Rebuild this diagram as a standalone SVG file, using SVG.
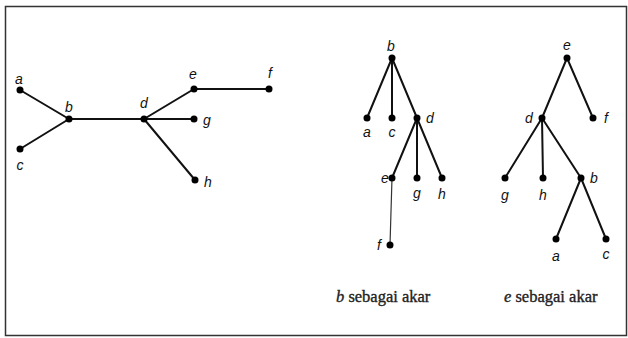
<svg xmlns="http://www.w3.org/2000/svg" width="628" height="338" viewBox="0 0 628 338">
<style>
.edge{stroke:#111;stroke-width:2;fill:none;stroke-linecap:round}
.thin{stroke:#333;stroke-width:1.2}
.dot{fill:#000}
.lbl{font-family:"Liberation Sans",Arial,sans-serif;font-style:italic;font-size:14px;fill:#111;text-anchor:middle}
.cap{font-family:"Liberation Serif","Times New Roman",serif;font-size:16.5px;fill:#222;stroke:#222;stroke-width:0.35}
</style>
<rect x="5.5" y="6.5" width="621" height="329" fill="#fff" stroke="#333" stroke-width="1.5"/>
<g id="connectors">
<line class="edge" x1="20" y1="90" x2="69" y2="119"/>
<line class="edge" x1="20" y1="149" x2="69" y2="119"/>
<line class="edge" x1="69" y1="119" x2="144" y2="119"/>
<line class="edge" x1="144" y1="119" x2="194" y2="89"/>
<line class="edge" x1="194" y1="89" x2="269" y2="89"/>
<line class="edge" x1="144" y1="119" x2="194" y2="119"/>
<line class="edge" x1="144" y1="119" x2="195" y2="180"/>
<line class="edge" x1="392" y1="58" x2="367" y2="118"/>
<line class="edge" x1="392" y1="58" x2="392" y2="118"/>
<line class="edge" x1="392" y1="58" x2="417" y2="118"/>
<line class="edge" x1="417" y1="118" x2="392" y2="178"/>
<line class="edge" x1="417" y1="118" x2="417" y2="178"/>
<line class="edge" x1="417" y1="118" x2="442" y2="178"/>
<line class="edge thin" x1="392" y1="178" x2="390" y2="245"/>
<line class="edge" x1="567" y1="58" x2="542" y2="118"/>
<line class="edge" x1="567" y1="58" x2="593" y2="118"/>
<line class="edge" x1="542" y1="118" x2="505" y2="178"/>
<line class="edge" x1="542" y1="118" x2="543" y2="178"/>
<line class="edge" x1="542" y1="118" x2="581" y2="178"/>
<line class="edge" x1="581" y1="178" x2="556" y2="239"/>
<line class="edge" x1="581" y1="178" x2="606" y2="239"/>
</g>
<g id="g1-a"><circle class="dot" cx="20" cy="90" r="3.5"/><text class="lbl" x="19" y="84">a</text></g>
<g id="g1-b"><circle class="dot" cx="69" cy="119" r="3.5"/><text class="lbl" x="69" y="112">b</text></g>
<g id="g1-c"><circle class="dot" cx="20" cy="149" r="3.5"/><text class="lbl" x="20" y="170">c</text></g>
<g id="g1-d"><circle class="dot" cx="144" cy="119" r="3.5"/><text class="lbl" x="144" y="108">d</text></g>
<g id="g1-e"><circle class="dot" cx="194" cy="89" r="3.5"/><text class="lbl" x="193" y="79">e</text></g>
<g id="g1-f"><circle class="dot" cx="269" cy="89" r="3.5"/><text class="lbl" x="270" y="78">f</text></g>
<g id="g1-g"><circle class="dot" cx="194" cy="119" r="3.5"/><text class="lbl" x="207" y="125">g</text></g>
<g id="g1-h"><circle class="dot" cx="195" cy="180" r="3.5"/><text class="lbl" x="208" y="187">h</text></g>
<g id="t1-b"><circle class="dot" cx="392" cy="58" r="3.5"/><text class="lbl" x="391" y="51">b</text></g>
<g id="t1-a"><circle class="dot" cx="367" cy="118" r="3.5"/><text class="lbl" x="367" y="137">a</text></g>
<g id="t1-c"><circle class="dot" cx="392" cy="118" r="3.5"/><text class="lbl" x="392" y="137">c</text></g>
<g id="t1-d"><circle class="dot" cx="417" cy="118" r="3.5"/><text class="lbl" x="430" y="123">d</text></g>
<g id="t1-e"><circle class="dot" cx="392" cy="178" r="3.5"/><text class="lbl" x="385" y="183">e</text></g>
<g id="t1-g"><circle class="dot" cx="417" cy="178" r="3.5"/><text class="lbl" x="417" y="198">g</text></g>
<g id="t1-h"><circle class="dot" cx="442" cy="178" r="3.5"/><text class="lbl" x="442" y="199">h</text></g>
<g id="t1-f"><circle class="dot" cx="390" cy="245" r="3.5"/><text class="lbl" x="379" y="250">f</text></g>
<g id="t2-e"><circle class="dot" cx="567" cy="58" r="3.5"/><text class="lbl" x="567" y="50">e</text></g>
<g id="t2-d"><circle class="dot" cx="542" cy="118" r="3.5"/><text class="lbl" x="529" y="123">d</text></g>
<g id="t2-f"><circle class="dot" cx="593" cy="118" r="3.5"/><text class="lbl" x="606" y="123">f</text></g>
<g id="t2-g"><circle class="dot" cx="505" cy="178" r="3.5"/><text class="lbl" x="505" y="200">g</text></g>
<g id="t2-h"><circle class="dot" cx="543" cy="178" r="3.5"/><text class="lbl" x="543" y="200">h</text></g>
<g id="t2-b"><circle class="dot" cx="581" cy="178" r="3.5"/><text class="lbl" x="594" y="183">b</text></g>
<g id="t2-a"><circle class="dot" cx="556" cy="239" r="3.5"/><text class="lbl" x="556" y="261">a</text></g>
<g id="t2-c"><circle class="dot" cx="606" cy="239" r="3.5"/><text class="lbl" x="606" y="259">c</text></g>
<text class="cap" x="336" y="302"><tspan font-style="italic">b</tspan> sebagai akar</text>
<text class="cap" x="504" y="302"><tspan font-style="italic">e</tspan> sebagai akar</text>
</svg>
